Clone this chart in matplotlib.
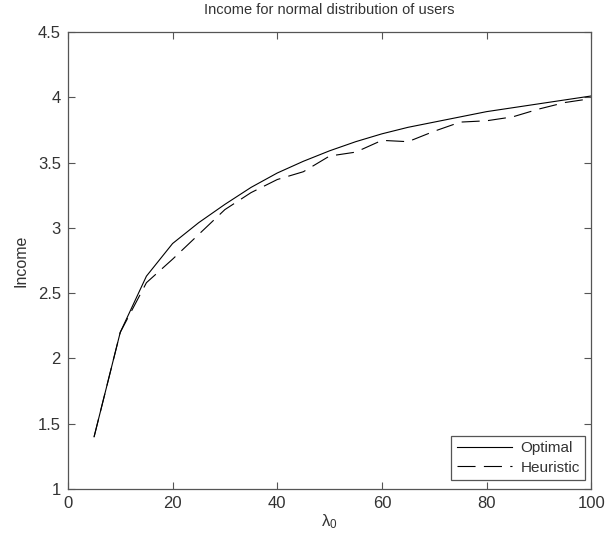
import matplotlib
matplotlib.use("Agg")
import matplotlib.pyplot as plt

plt.rcParams["font.family"] = ["Liberation Sans", "DejaVu Sans"]
# upright lambda for the x label
plt.rcParams["mathtext.fontset"] = "custom"
plt.rcParams["mathtext.rm"] = "Liberation Sans"
plt.rcParams["mathtext.it"] = "Liberation Sans"
plt.rcParams["lines.scale_dashes"] = False

# arrival rate lambda_0 and income of both policies
lam = [5, 10, 15, 20, 25, 30, 35, 40, 45, 50,
       55, 60, 65, 70, 75, 80, 85, 90, 95, 100]
income_optimal = [1.40, 2.20, 2.63, 2.88, 3.04, 3.18, 3.31, 3.42, 3.51, 3.59,
                  3.66, 3.72, 3.77, 3.81, 3.85, 3.89, 3.92, 3.95, 3.98, 4.01]
income_heuristic = [1.40, 2.20, 2.58, 2.76, 2.95, 3.14, 3.27, 3.37, 3.43, 3.55,
                    3.58, 3.67, 3.66, 3.74, 3.81, 3.82, 3.85, 3.91, 3.96, 3.99]

x_ticks = [0, 20, 40, 60, 80, 100]
y_ticks = [1, 1.5, 2, 2.5, 3, 3.5, 4, 4.5]
y_tick_labels = ["1", "1.5", "2", "2.5", "3", "3.5", "4", "4.5"]

axis_color = "#555555"
text_color = "#333333"

fig = plt.figure(figsize=(6.12, 5.46), dpi=100)
ax = fig.add_axes([0.111, 0.1044, 0.855, 0.837])

ax.plot(lam, income_optimal, color="black", linewidth=0.8, label="Optimal")
ax.plot(lam, income_heuristic, color="black", linewidth=0.8,
        dashes=(13, 6), label="Heuristic")

ax.set_xlim(0, 100)
ax.set_ylim(1, 4.5)
ax.set_xticks(x_ticks)
ax.set_yticks(y_ticks)
ax.set_yticklabels(y_tick_labels)

ax.tick_params(direction="in", length=5, width=0.8, top=True, right=True,
               colors=axis_color, labelcolor=text_color, labelsize=12,
               pad=5)
for side in ax.spines.values():
    side.set_color(axis_color)
    side.set_linewidth(0.9)

ax.set_title("Income for normal distribution of users", fontsize=10.5,
             color=text_color, pad=13)
ax.set_xlabel(r"$\lambda_0$", fontsize=12, color=text_color, labelpad=1)
ax.set_ylabel("Income", fontsize=11.5, color=text_color, labelpad=7)

leg = ax.legend(loc="lower right", bbox_to_anchor=(0.989, 0.0197),
                borderaxespad=0, fancybox=False, framealpha=1,
                edgecolor=axis_color, fontsize=11, handlelength=3.6,
                handletextpad=0.6, borderpad=0.35, labelspacing=0.35)
leg.get_frame().set_linewidth(0.9)
for t in leg.get_texts():
    t.set_color(text_color)

fig.savefig("out.png", dpi=100)
